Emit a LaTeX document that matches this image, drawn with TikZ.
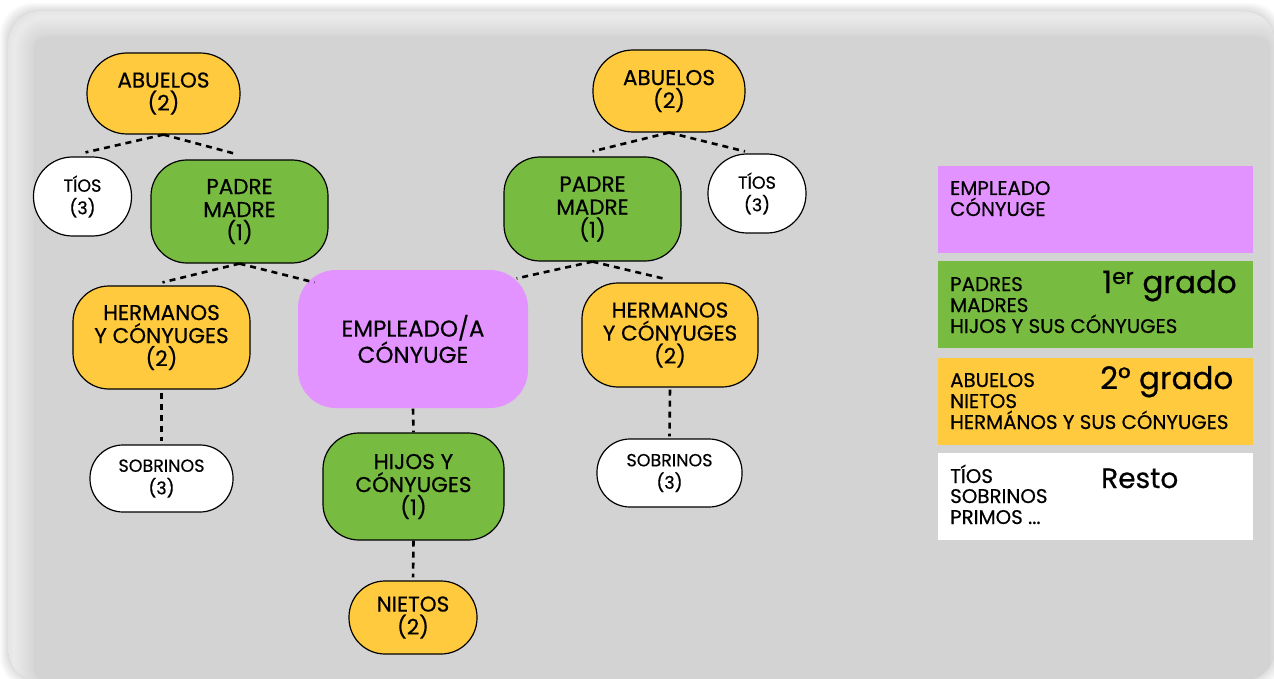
\documentclass[tikz,border=0pt]{standalone}
\usepackage{fontspec}
\setmainfont{Poppins}[FakeBold=0.5]
\usetikzlibrary{calc}
\definecolor{bgc}{HTML}{D3D3D3}
\definecolor{yel}{HTML}{FFCA3D}
\definecolor{grn}{HTML}{77BB41}
\definecolor{pur}{HTML}{E393FF}
\begin{document}
\begin{tikzpicture}[x=1pt,y=1pt,
  box/.style={rectangle, draw=black, line width=1.2pt, align=center, inner sep=0pt, text=black},
  bigtxt/.style={font=\fontsize{21.5}{23}\selectfont},
  smalltxt/.style={font=\fontsize{17.5}{22.5}\selectfont},
  conn/.style={draw=black, line width=2.6pt, dash pattern=on 6pt off 5pt},
  legbox/.style={rectangle, inner sep=0pt, minimum width=315pt, minimum height=87pt, anchor=north west},
  legtxt/.style={font=\fontsize{19.8}{21}\selectfont, anchor=base west, inner sep=0pt},
  leghead/.style={font=\fontsize{31}{34}\selectfont, anchor=base west, inner sep=0pt}
]
\useasboundingbox (0,0) rectangle (1274,-679);
\fill[white] (0,0) rectangle (1274,-679);
% outer shadow
\foreach \k in {1,...,8}{
  \fill[black, opacity=0.015, rounded corners=32pt] (8-\k,-11+\k) rectangle (1275+\k,-681-\k);
}
% background panel with inner highlight
\begin{scope}
  \clip[rounded corners=32pt] (8,-11) rectangle (1275,-681);
  \fill[bgc] (0,0) rectangle (1280,-690);
  \foreach \k in {2,4,...,40}{
    \draw[white, opacity=0.05, line width=\k pt, rounded corners=32pt] (14,-17) rectangle (1290,-700);
  }
\end{scope}

% left family
\node[box, bigtxt, fill=yel, minimum width=153pt, minimum height=81pt, rounded corners=40pt] (abL) at (163.5,-93.5) {ABUELOS\\(2)};
\node[box, smalltxt, fill=white, minimum width=98pt, minimum height=79pt, rounded corners=39pt] (tiL) at (82.5,-196.5) {TÍOS\\(3)};
\node[box, bigtxt, fill=grn, minimum width=177pt, minimum height=103pt, rounded corners=36pt] (paL) at (239.5,-211.5) {PADRE\\MADRE\\(1)};
\node[box, bigtxt, fill=yel, minimum width=177pt, minimum height=103pt, rounded corners=36pt] (heL) at (161.5,-337.5) {HERMANOS\\Y CÓNYUGES\\(2)};
\node[box, smalltxt, fill=white, minimum width=143pt, minimum height=67pt, rounded corners=33pt] (soL) at (161.5,-478.5) {SOBRINOS\\(3)};

% centre
\node[box, draw=none, font=\fontsize{23}{24}\selectfont, fill=pur, minimum width=230pt, minimum height=138pt, rounded corners=38pt] (emp) at (413,-339) {EMPLEADO/A\\CÓNYUGE};
\node[box, bigtxt, fill=grn, minimum width=181pt, minimum height=107pt, rounded corners=36pt] (hi) at (413.5,-486.5) {HIJOS Y\\CÓNYUGES\\(1)};
\node[box, bigtxt, fill=yel, minimum width=128pt, minimum height=73pt, rounded corners=36pt] (ni) at (413,-617.5) {NIETOS\\(2)};

% right family
\node[box, bigtxt, fill=yel, minimum width=152pt, minimum height=82pt, rounded corners=40pt] (abR) at (669,-91) {ABUELOS\\(2)};
\node[box, bigtxt, fill=grn, minimum width=177pt, minimum height=104pt, rounded corners=36pt] (paR) at (592.5,-209) {PADRE\\MADRE\\(1)};
\node[box, smalltxt, fill=white, minimum width=98pt, minimum height=79pt, rounded corners=39pt] (tiR) at (757,-193.5) {TÍOS\\(3)};
\node[box, bigtxt, fill=yel, minimum width=176pt, minimum height=104pt, rounded corners=36pt] (heR) at (670,-335) {HERMANOS\\Y CÓNYUGES\\(2)};
\node[box, smalltxt, fill=white, minimum width=145pt, minimum height=68pt, rounded corners=33pt] (soR) at (669.5,-473) {SOBRINOS\\(3)};

% connectors
\draw[conn] (abL.south) -- ($(tiL.north)+(3,4)$);
\draw[conn] (abL.south) -- ($(paL.north)+(-2,5)$);
\draw[conn] (paL.south) -- ($(heL.north)+(1,3)$);
\draw[conn] (paL.south) -- ($(emp.north west)+(17,-13)$);
\draw[conn, shorten <=3pt, shorten >=3pt] (heL.south) -- (soL.north);
\draw[conn] (emp.south) -- (hi.north);
\draw[conn, shorten >=3pt] (hi.south) -- (ni.north);
\draw[conn] (abR.south) -- ($(paR.north)+(0,5)$);
\draw[conn] (abR.south) -- ($(tiR.north)+(-12,2)$);
\draw[conn] (paR.south) -- ($(emp.north east)+(-12,-9)$);
\draw[conn] (paR.south) -- ($(heR.north)+(-3,3)$);
\draw[conn, shorten <=2pt, shorten >=2pt] (heR.south) -- (soR.north);

% legend
\node[legbox, fill=pur] (lg1) at (938,-166) {};
\node[legbox, fill=grn] (lg2) at (938,-261) {};
\node[legbox, fill=yel] (lg3) at (938,-358) {};
\node[legbox, fill=white] (lg4) at (938,-453) {};

\node[legtxt] (t1a) at (950,-195) {EMPLEADO};
\node[legtxt] (t1b) at (950,-216) {CÓNYUGE};

\node[legtxt] (t2a) at (950,-291) {PADRES};
\node[legtxt] (t2b) at (950,-312) {MADRES};
\node[legtxt] (t2c) at (950,-333) {HIJOS Y SUS CÓNYUGES};
\node[leghead] (h2) at (1102,-293) {1\textsuperscript{er} grado};

\node[legtxt] (t3a) at (950,-387) {ABUELOS};
\node[legtxt] (t3b) at (950,-408) {NIETOS};
\node[legtxt] (t3c) at (950,-429) {HERMÁNOS Y SUS CÓNYUGES};
\node[leghead] (h3) at (1100,-389) {2° grado};

\node[legtxt] (t4a) at (950,-483) {TÍOS};
\node[legtxt] (t4b) at (950,-503) {SOBRINOS};
\node[legtxt] (t4c) at (950,-524) {PRIMOS ...};
\node[leghead, font=\fontsize{28}{34}\selectfont] (h4) at (1101,-488) {Resto};
\end{tikzpicture}
\end{document}
